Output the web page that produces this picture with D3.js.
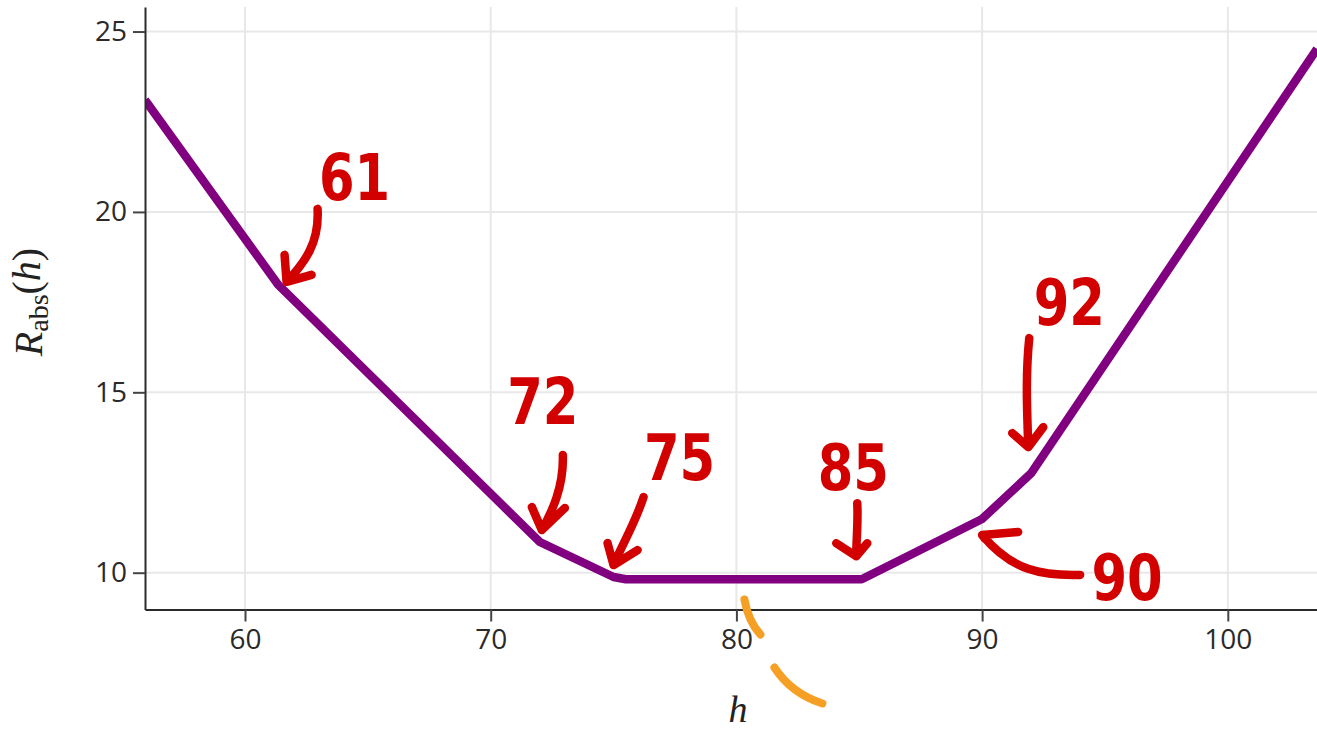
<!DOCTYPE html>
<html>
<head>
<meta charset="utf-8">
<script src="https://cdn.jsdelivr.net/npm/d3@7"></script>
<style>
  body { margin: 0; background: #fff; }
  svg { display: block; }
</style>
</head>
<body>
<div id="chart"></div>
<script>
// Curve R_abs(h) at its break points
const hValues = [55.93, 61.35, 72, 75, 75.5, 85.1, 90, 92, 103.63];
const rValues = [23.1, 17.98, 10.85, 9.88, 9.82, 9.82, 11.49, 12.76, 24.52];
const xTicks = [60, 70, 80, 90, 100];
const yTicks = [10, 15, 20, 25];
// hand-written marks on the picture
const noteLabels = ["61", "72", "75", "85", "90", "92"];

const W = 1317, H = 729;
const margin = { top: 7, right: 0, bottom: 119.5, left: 145 };
const width = W - margin.left - margin.right;
const height = H - margin.top - margin.bottom;

const svg = d3.select("#chart").append("svg")
  .attr("width", W)
  .attr("height", H);

const g = svg.append("g")
  .attr("transform", `translate(${margin.left},${margin.top})`);

const x = d3.scaleLinear().domain([55.93, 103.63]).range([0, width]);
const y = d3.scaleLinear().domain([8.98, 25.68]).range([height, 0]);

// grid
g.append("g").selectAll("line")
  .data(xTicks).enter().append("line")
  .attr("x1", d => x(d)).attr("x2", d => x(d))
  .attr("y1", 0).attr("y2", height)
  .attr("stroke", "#e8e8e8").attr("stroke-width", 2);
g.append("g").selectAll("line")
  .data(yTicks).enter().append("line")
  .attr("x1", 0).attr("x2", width)
  .attr("y1", d => y(d)).attr("y2", d => y(d))
  .attr("stroke", "#e8e8e8").attr("stroke-width", 2);

// the curve
svg.append("clipPath").attr("id", "clip")
  .append("rect").attr("width", width).attr("height", height);

const pts = hValues.map((h, i) => [h, rValues[i]]);
const line = d3.line().x(d => x(d[0])).y(d => y(d[1]));
g.append("path")
  .datum(pts)
  .attr("clip-path", "url(#clip)")
  .attr("d", line)
  .attr("fill", "none")
  .attr("stroke", "#800080")
  .attr("stroke-width", 8.5)
  .attr("stroke-linejoin", "round");

// axes
const xAxis = d3.axisBottom(x).tickValues(xTicks).tickSize(12).tickSizeOuter(0).tickPadding(8);
const yAxis = d3.axisLeft(y).tickValues(yTicks).tickSize(12).tickSizeOuter(0).tickPadding(6);

const gx = g.append("g").attr("transform", `translate(0,${height})`).call(xAxis);
const gy = g.append("g").call(yAxis);
[gx, gy].forEach(a => {
  a.select(".domain").attr("stroke", "#2b2b2b").attr("stroke-width", 2);
  a.selectAll(".tick line").attr("stroke", "#444").attr("stroke-width", 2);
  a.selectAll(".tick text")
    .attr("fill", "#2a2a2a")
    .style("font-family", "'Open Sans', sans-serif")
    .style("font-size", "28px");
});
gx.selectAll(".tick text").attr("dy", "0.71em");

// axis titles
svg.append("text")
  .attr("x", 738).attr("y", 722)
  .attr("text-anchor", "middle")
  .style("font-family", "'Liberation Serif', serif")
  .style("font-style", "italic")
  .style("font-size", "38px")
  .attr("fill", "#222")
  .text("h");

const yt = svg.append("text")
  .attr("transform", "translate(42,302) rotate(-90)")
  .attr("text-anchor", "middle")
  .style("font-family", "'Liberation Serif', serif")
  .style("font-size", "40px")
  .attr("fill", "#222");
yt.append("tspan").style("font-style", "italic").text("R");
yt.append("tspan").attr("dy", "0.2em").style("font-size", "28px").text("abs");
yt.append("tspan").attr("dy", "-0.2em").text("(");
yt.append("tspan").style("font-style", "italic").text("h");
yt.append("tspan").text(")");

// hand-drawn annotations, placed relative to the curve point they mark
const red = "#d30000";
const rAt = h => {
  const i = d3.bisectRight(hValues, h) - 1;
  const t = (h - hValues[i]) / (hValues[i + 1] - hValues[i]);
  return rValues[i] + t * (rValues[i + 1] - rValues[i]);
};
const noteShapes = {
  "61": { text: [85, -73], arrow: "M48,-64 C50,-30 35,-10 17,9", head: "M15,-18 L17,9 L42,2" },
  "72": { text: [3, -118], arrow: "M23,-87 C24,-55 12,-30 2,-12", head: "M-8,-35 L2,-12 L25,-34" },
  "75": { text: [66, -97], arrow: "M30,-80 C22,-55 10,-35 0,-12", head: "M-6,-34 L0,-12 L24,-27" },
  "85": { text: [-6, -89], arrow: "M-2,-76 C-1,-55 -3,-40 -3,-23", head: "M-23,-36 L-3,-23 L8,-36" },
  "90": { text: [145, 81], arrow: "M98,56 C60,57 30,52 0,16", head: "M36,13 L0,16 L3,20" },
  "92": { text: [38, -148], arrow: "M-2,-135 C-6,-95 -4,-60 -3,-26", head: "M-19,-40 L-3,-26 L12,-46" }
};

const notes = g.append("g").selectAll("g")
  .data(noteLabels).enter().append("g")
  .attr("transform", d => `translate(${x(+d)},${y(rAt(+d))})`);

notes.append("path")
  .attr("d", d => noteShapes[d].arrow + " " + noteShapes[d].head)
  .attr("fill", "none")
  .attr("stroke", red)
  .attr("stroke-width", 8.5)
  .attr("stroke-linecap", "round")
  .attr("stroke-linejoin", "round");

notes.append("text")
  .attr("transform", d => `translate(${noteShapes[d].text[0]},${noteShapes[d].text[1]}) scale(0.8,1)`)
  .attr("text-anchor", "middle")
  .style("font-family", "'DejaVu Sans', sans-serif")
  .style("font-weight", "bold")
  .style("font-size", "64px")
  .attr("fill", red)
  .text(d => d);

// orange stroke under the axis near h = 80
const orange = svg.append("g")
  .attr("transform", `translate(${margin.left + x(80)},${margin.top + height})`)
  .attr("fill", "none")
  .attr("stroke", "#f5a024")
  .attr("stroke-width", 8)
  .attr("stroke-linecap", "round");
orange.append("path").attr("d", "M8,-10 Q12,12 24,25");
orange.append("path").attr("d", "M38,58 Q55,84 86,94");
</script>
</body>
</html>
